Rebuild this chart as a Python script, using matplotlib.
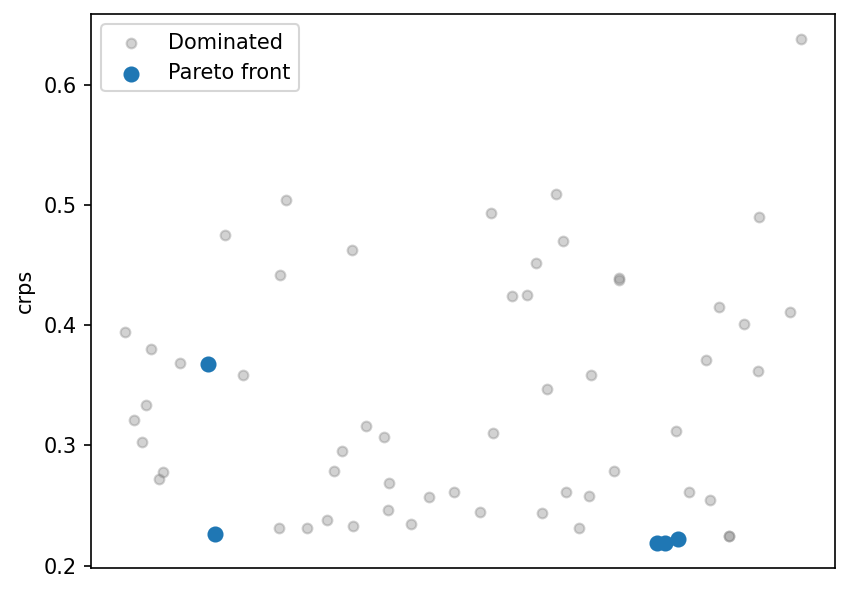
import numpy as np
import matplotlib.pyplot as plt

# x has no ticks in the reference; values are positions
dom_x = [125, 134, 146, 151, 142, 159, 163, 180, 225, 243, 279, 280, 286, 307, 327,
         334, 342, 352, 353, 366, 384, 389, 388, 411, 429, 454, 480, 491, 493, 512,
         527, 536, 542, 547, 556, 563, 566, 579, 589, 591, 614, 619, 619, 676, 689,
         706, 710, 719, 729, 729, 744, 758, 759, 790, 801]
dom_y = [0.394, 0.321, 0.334, 0.380, 0.303, 0.272, 0.278, 0.369, 0.475, 0.359, 0.231,
         0.442, 0.504, 0.231, 0.238, 0.279, 0.295, 0.463, 0.233, 0.316, 0.307, 0.269,
         0.246, 0.235, 0.257, 0.261, 0.245, 0.493, 0.310, 0.424, 0.425, 0.452, 0.244,
         0.347, 0.509, 0.470, 0.261, 0.231, 0.258, 0.359, 0.279, 0.439, 0.438, 0.312,
         0.261, 0.371, 0.255, 0.415, 0.225, 0.225, 0.401, 0.362, 0.490, 0.411, 0.638]
par_x = [208, 215, 657, 665, 678]
par_y = [0.368, 0.226, 0.219, 0.219, 0.222]

fig = plt.figure(figsize=(850/150, 592/150), dpi=150)
ax = fig.add_axes([91/850, 24/592, 744/850, 554/592])
ax.scatter(dom_x, dom_y, s=22, color='gray', alpha=0.35, label='Dominated')
ax.scatter(par_x, par_y, s=45, color='tab:blue', label='Pareto front')
ax.set_xlim(91, 835)
ax.set_ylim(0.198, 0.659)
ax.set_xticks([])
ax.set_yticks([0.2, 0.3, 0.4, 0.5, 0.6])
ax.set_ylabel('crps')
ax.legend(loc='upper left')
fig.savefig('out.png', dpi=150)
